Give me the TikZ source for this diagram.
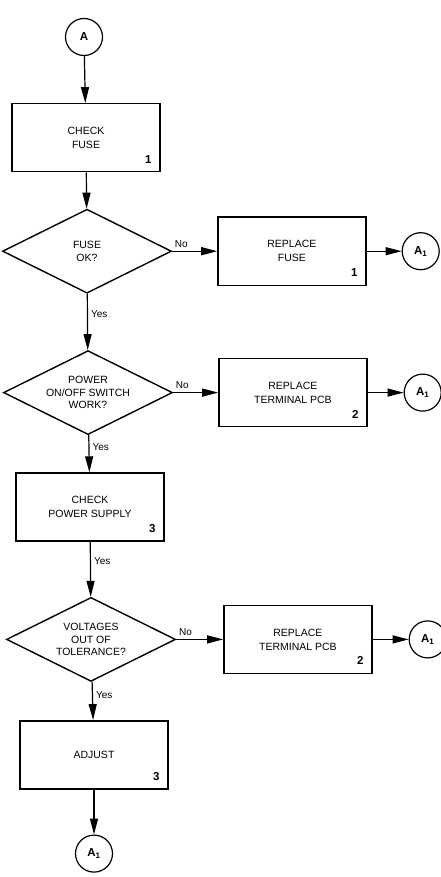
\documentclass[tikz,border=0pt]{standalone}
\usepackage{fontspec}
\setmainfont{Liberation Sans}
\usetikzlibrary{arrows.meta,positioning,shapes.geometric}

\begin{document}
\begin{tikzpicture}[
  x=1pt, y=1pt,
  node distance=36pt and 45pt,
  box/.style={draw, line width=1.4pt, minimum width=148pt, minimum height=68pt,
    font=\fontsize{10.5}{14}\selectfont, align=center, inner sep=2pt},
  dec/.style={box, diamond, aspect=2, minimum width=169pt, minimum height=84pt,
    inner sep=0pt, font=\fontsize{10.5}{12.5}\selectfont},
  conn/.style={draw, circle, line width=1.2pt, minimum size=37pt, inner sep=0pt,
    font=\bfseries\fontsize{11.5}{13}\selectfont},
  num/.style={font=\bfseries\fontsize{11.5}{13}\selectfont, anchor=south east,
    inner sep=0pt, xshift=-9pt, yshift=9pt},
  arr/.style={-{Triangle[length=16pt, width=8pt]}, line width=1.2pt},
  lab/.style={font=\fontsize{10}{12}\selectfont, inner sep=3pt}]
\useasboundingbox (0,0) rectangle (441,-877);
% main column
\node[conn] (a) at (84,-37) {A};
\node[box, below=47pt of a, xshift=2pt] (chkfuse) {CHECK\\FUSE};
\node[dec, below=of chkfuse, xshift=1pt] (fuseok) {FUSE\\OK?};
\node[dec, below=56pt of fuseok, xshift=1pt] (switch) {POWER\\ON/OFF SWITCH\\WORK?};
\node[box, below=37pt of switch, xshift=2pt] (chkpsu) {CHECK\\POWER SUPPLY};
\node[dec, below=55pt of chkpsu, xshift=1pt] (volt) {VOLTAGES\\OUT OF\\TOLERANCE?};
\node[box, below=38pt of volt, xshift=3pt] (adjust) {ADJUST};
\node[conn, below=45pt of adjust] (a1d) {A\textsubscript{1}};
% replacement branch
\node[box, right=of fuseok] (repfuse) {REPLACE\\FUSE};
\node[conn, right=35pt of repfuse] (a1a) {A\textsubscript{1}};
\node[box, right=of switch] (reppcb) {REPLACE\\TERMINAL PCB};
\node[conn, right=36pt of reppcb] (a1b) {A\textsubscript{1}};
\node[box, right=47pt of volt] (reppcbb) {REPLACE\\TERMINAL PCB};
\node[conn, right=36pt of reppcbb] (a1c) {A\textsubscript{1}};
% step numbers
\node[num] (n1) at (chkfuse.south east) {1};
\node[num] (n2) at (repfuse.south east) {1};
\node[num] (n3) at (reppcb.south east) {2};
\node[num] (n4) at (chkpsu.south east) {3};
\node[num] (n5) at (reppcbb.south east) {2};
\node[num] (n6) at (adjust.south east) {3};
\draw[arr] (a) -- (chkfuse);
\draw[arr] (chkfuse) -- (fuseok);
\draw[arr] (fuseok) -- node[lab, above, pos=0.2]{No} (repfuse);
\draw[arr] (repfuse) -- (a1a);
\draw[arr] (fuseok) -- node[lab, right, pos=0.37]{Yes} (switch);
\draw[arr] (switch) -- node[lab, above, pos=0.2]{No} (reppcb);
\draw[arr] (reppcb) -- (a1b);
\draw[arr] (switch) -- node[lab, right, pos=0.32]{Yes} (chkpsu);
\draw[arr] (chkpsu) -- node[lab, right, pos=0.35]{Yes} (volt);
\draw[arr] (volt) -- node[lab, above, pos=0.2]{No} (reppcbb);
\draw[arr] (reppcbb) -- (a1c);
\draw[arr] (volt) -- node[lab, right, pos=0.34]{Yes} (adjust);
\draw[arr] (adjust) -- (a1d);
\end{tikzpicture}
\end{document}
